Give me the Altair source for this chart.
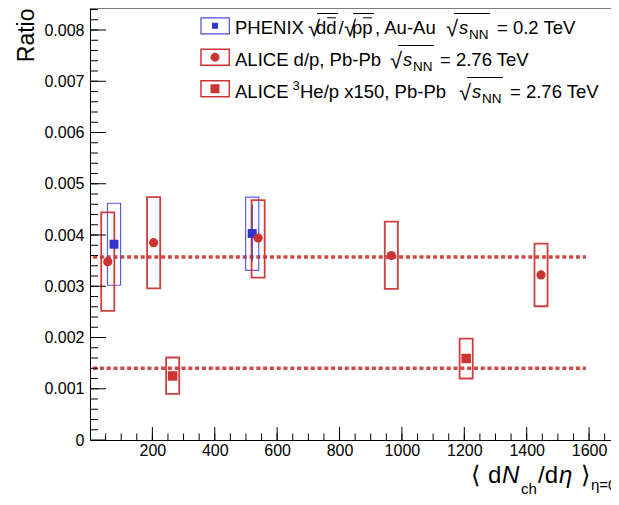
import altair as alt
import pandas as pd

# ---------------- data ----------------
phenix_x = [77, 520]
phenix_ratio = [0.00382, 0.00403]
phenix_stat_lo = [0.00373, 0.00348]
phenix_stat_hi = [0.00391, 0.00459]
phenix_sys_lo = [0.00302, 0.00331]
phenix_sys_hi = [0.00462, 0.00474]

alice_dp_x = [57, 204, 539, 966, 1446]
alice_dp_ratio = [0.00348, 0.00385, 0.00394, 0.00360, 0.00322]
alice_dp_sys_lo = [0.00252, 0.00296, 0.00317, 0.00295, 0.00261]
alice_dp_sys_hi = [0.00444, 0.00474, 0.00468, 0.00426, 0.00383]

alice_he_x = [265, 1206]
alice_he_ratio = [0.00125, 0.00159]
alice_he_sys_lo = [0.00090, 0.00120]
alice_he_sys_hi = [0.00161, 0.00198]

fit_x = [10, 1590]
fit_dp_level = 0.00357
fit_he_level = 0.00140

sys_halfwidth = 21  # half width of systematic boxes, in dNch/deta units

x_labels = [200, 400, 600, 800, 1000, 1200, 1400, 1600]
y_labels = [0, 0.001, 0.002, 0.003, 0.004, 0.005, 0.006, 0.007, 0.008]

# ---------------- layout ----------------
W, H = 521, 432
XMAX = 1670.3
YMAX = 0.0084293
OX, OY = 90, 8  # plot origin on the page
FONT = "Liberation Sans"
RED = "#cc3333"
BLUE = "#3333cc"
LF = 18.5  # legend font size

xs = alt.Scale(domain=[0, XMAX], nice=False, zero=False)
ys = alt.Scale(domain=[0, YMAX], nice=False, zero=False)

x_minor = [50 * i for i in range(1, 34)]
y_minor = [round(0.0002 * i, 5) for i in range(1, 43)]

xaxis = alt.Axis(values=x_labels, format="d", ticks=False, tickSize=0, labelPadding=2,
                 labelFont=FONT, labelFontSize=16, labelColor="black", labelFlush=False,
                 domainColor="black", domainWidth=1, grid=False, title=None)
yaxis = alt.Axis(values=y_labels, format=".3~f", ticks=False, tickSize=0, labelPadding=6,
                 labelFont=FONT, labelFontSize=16, labelColor="black", labelFlush=False,
                 domainColor="black", domainWidth=1, grid=False,
                 title="Ratio", titleFont=FONT, titleFontSize=23, titleFontWeight="normal",
                 titleColor="black", titleAngle=270, titleAnchor="end", titleAlign="right",
                 titleBaseline="alphabetic", titleX=-57, titleY=0)


def XF(f):
    return alt.X(f, type="quantitative", scale=xs, axis=xaxis)


def YF(f):
    return alt.Y(f, type="quantitative", scale=ys, axis=yaxis)


one = pd.DataFrame({"a": [0]})


def txt(s, x, y, size=LF, style="normal", align="left", color="black"):
    return alt.Chart(one).mark_text(
        text=s, align=align, baseline="alphabetic", font=FONT,
        fontSize=size, fontStyle=style, color=color
    ).encode(x=alt.value(x - OX), y=alt.value(y - OY))


def hline(x1, x2, y, color="black", w=1.0):
    return alt.Chart(one).mark_rule(color=color, strokeWidth=w).encode(
        x=alt.value(x1 - OX), x2=alt.value(x2 - OX), y=alt.value(y - OY))


layers = []

# fit lines
fit_df = pd.DataFrame({"x": fit_x + fit_x,
                       "y": [fit_dp_level] * 2 + [fit_he_level] * 2,
                       "s": ["dp", "dp", "he", "he"]})
layers.append(alt.Chart(fit_df).mark_line(color=RED, strokeWidth=3.6, strokeDash=[4, 2.8], opacity=0.9).encode(
    x=XF("x"), y=YF("y"), detail="s:N"))


# systematic boxes
def boxes(xv, lo, hi, color, w, op=1.0):
    df = pd.DataFrame({"xlo": [v - sys_halfwidth for v in xv],
                       "xhi": [v + sys_halfwidth for v in xv],
                       "lo": lo, "hi": hi})
    return alt.Chart(df).mark_rect(fillOpacity=0, stroke=color, strokeWidth=w, strokeOpacity=op).encode(
        x=XF("xlo"), x2="xhi:Q", y=YF("lo"), y2="hi:Q")


layers.append(boxes(phenix_x, phenix_sys_lo, phenix_sys_hi, "#4b4bdd", 1.2, 0.9))
layers.append(boxes(alice_dp_x, alice_dp_sys_lo, alice_dp_sys_hi, RED, 1.8, 0.95))
layers.append(boxes(alice_he_x, alice_he_sys_lo, alice_he_sys_hi, RED, 1.8, 0.95))

# PHENIX stat bars
stat_df = pd.DataFrame({"x": phenix_x, "lo": phenix_stat_lo, "hi": phenix_stat_hi})
layers.append(alt.Chart(stat_df).mark_rule(color=BLUE, strokeWidth=1).encode(
    x=XF("x"), y=YF("lo"), y2="hi:Q"))

# markers
layers.append(alt.Chart(pd.DataFrame({"x": phenix_x, "y": phenix_ratio})).mark_point(
    shape="square", filled=True, size=80, color=BLUE, opacity=1).encode(x=XF("x"), y=YF("y")))
layers.append(alt.Chart(pd.DataFrame({"x": alice_dp_x, "y": alice_dp_ratio})).mark_point(
    shape="circle", filled=True, size=85, color=RED, opacity=1).encode(x=XF("x"), y=YF("y")))
layers.append(alt.Chart(pd.DataFrame({"x": alice_he_x, "y": alice_he_ratio})).mark_point(
    shape="square", filled=True, size=90, color=RED, opacity=1).encode(x=XF("x"), y=YF("y")))

# inward ticks
layers.append(alt.Chart(pd.DataFrame({"v": y_labels})).mark_rule(color="black", strokeWidth=1).encode(
    y=YF("v"), x=alt.value(0), x2=alt.value(16)))
layers.append(alt.Chart(pd.DataFrame({"v": y_minor})).mark_rule(color="black", strokeWidth=1).encode(
    y=YF("v"), x=alt.value(0), x2=alt.value(8)))
layers.append(alt.Chart(pd.DataFrame({"v": x_labels})).mark_rule(color="black", strokeWidth=1).encode(
    x=XF("v"), y=alt.value(H), y2=alt.value(H - 13)))
layers.append(alt.Chart(pd.DataFrame({"v": x_minor})).mark_rule(color="black", strokeWidth=1).encode(
    x=XF("v"), y=alt.value(H), y2=alt.value(H - 6.5)))

# top frame line
layers.append(alt.Chart(one).mark_rule(color="black", strokeWidth=1).encode(
    x=alt.value(0), x2=alt.value(W), y=alt.value(0)))

# ---------------- legend ----------------
legend_rows = [25.8, 57.2, 88.7]
box_cols = ["#4b4bdd", RED, RED]
for yc, bc in zip(legend_rows, box_cols):
    layers.append(alt.Chart(one).mark_rect(fillOpacity=0, stroke=bc, strokeWidth=1.5 if bc == RED else 1.2).encode(
        x=alt.value(201 - OX), x2=alt.value(229.3 - OX), y=alt.value(yc - 8 - OY), y2=alt.value(yc + 8 - OY)))
layers.append(alt.Chart(one).mark_point(shape="square", filled=True, size=36, color=BLUE, opacity=1).encode(
    x=alt.value(215 - OX), y=alt.value(legend_rows[0] - OY)))
layers.append(alt.Chart(one).mark_point(shape="circle", filled=True, size=80, color=RED, opacity=1).encode(
    x=alt.value(215 - OX), y=alt.value(legend_rows[1] - OY)))
layers.append(alt.Chart(one).mark_point(shape="square", filled=True, size=80, color=RED, opacity=1).encode(
    x=alt.value(215 - OX), y=alt.value(legend_rows[2] - OY)))

# row 1: PHENIX sqrt(d dbar)/sqrt(p pbar), Au-Au sqrt(s_NN) = 0.2 TeV
b1 = 34
layers += [
    txt("PHENIX", 235, b1),
    txt("√", 308, b1 + 2, size=22),
    txt("dd", 316, b1),
    hline(317, 338, 13.5), hline(327, 336, 17.8),
    txt("/", 338.5, b1),
    txt("√", 344, b1 + 2, size=22),
    txt("pp", 352, b1),
    hline(353, 374, 13.5), hline(363, 372, 17.8),
    txt(", Au-Au", 375, b1),
    txt("√", 446, b1 + 2, size=22),
    txt("s", 459, b1, style="italic"),
    txt("NN", 469, b1 + 5, size=13.5),
    hline(454, 490, 13.5),
    txt("= 0.2 TeV", 497, b1),
]
# row 2
b2 = 66
layers += [
    txt("ALICE d/p, Pb-Pb", 235, b2),
    txt("√", 390, b2 + 2, size=22),
    txt("s", 403, b2, style="italic"),
    txt("NN", 413, b2 + 5, size=13.5),
    hline(398, 434, 45.5),
    txt("= 2.76 TeV", 440, b2),
]
# row 3
b3 = 98
layers += [
    txt("ALICE", 235, b3),
    txt("3", 292.5, b3 - 8, size=13),
    txt("He/p x150, Pb-Pb", 300, b3),
    txt("√", 459, b3 + 2, size=22),
    txt("s", 472, b3, style="italic"),
    txt("NN", 482, b3 + 5, size=13.5),
    hline(467, 503, 77.5),
    txt("= 2.76 TeV", 510, b3),
]

# ---------------- x-axis title ----------------
bx = 483
layers += [
    txt("⟨", 471, bx, size=24),
    txt("d", 488, bx, size=24),
    txt("N", 502, bx, size=24, style="italic"),
    txt("ch", 521, bx + 11, size=15),
    txt("/d", 538, bx, size=24),
    txt("η", 559, bx, size=24, style="italic"),
    txt("⟩", 581, bx, size=24),
    txt("η=0", 591, bx + 7, size=15),
]

chart = alt.layer(*layers).properties(
    width=W, height=H,
    autosize=alt.AutoSizeParams(type="none"),
    padding={"left": 82, "top": 0, "right": 0, "bottom": 55},
    background="white",
).configure_view(stroke=None)

chart.save("out.html", embed_options={"renderer": "svg", "actions": False})
